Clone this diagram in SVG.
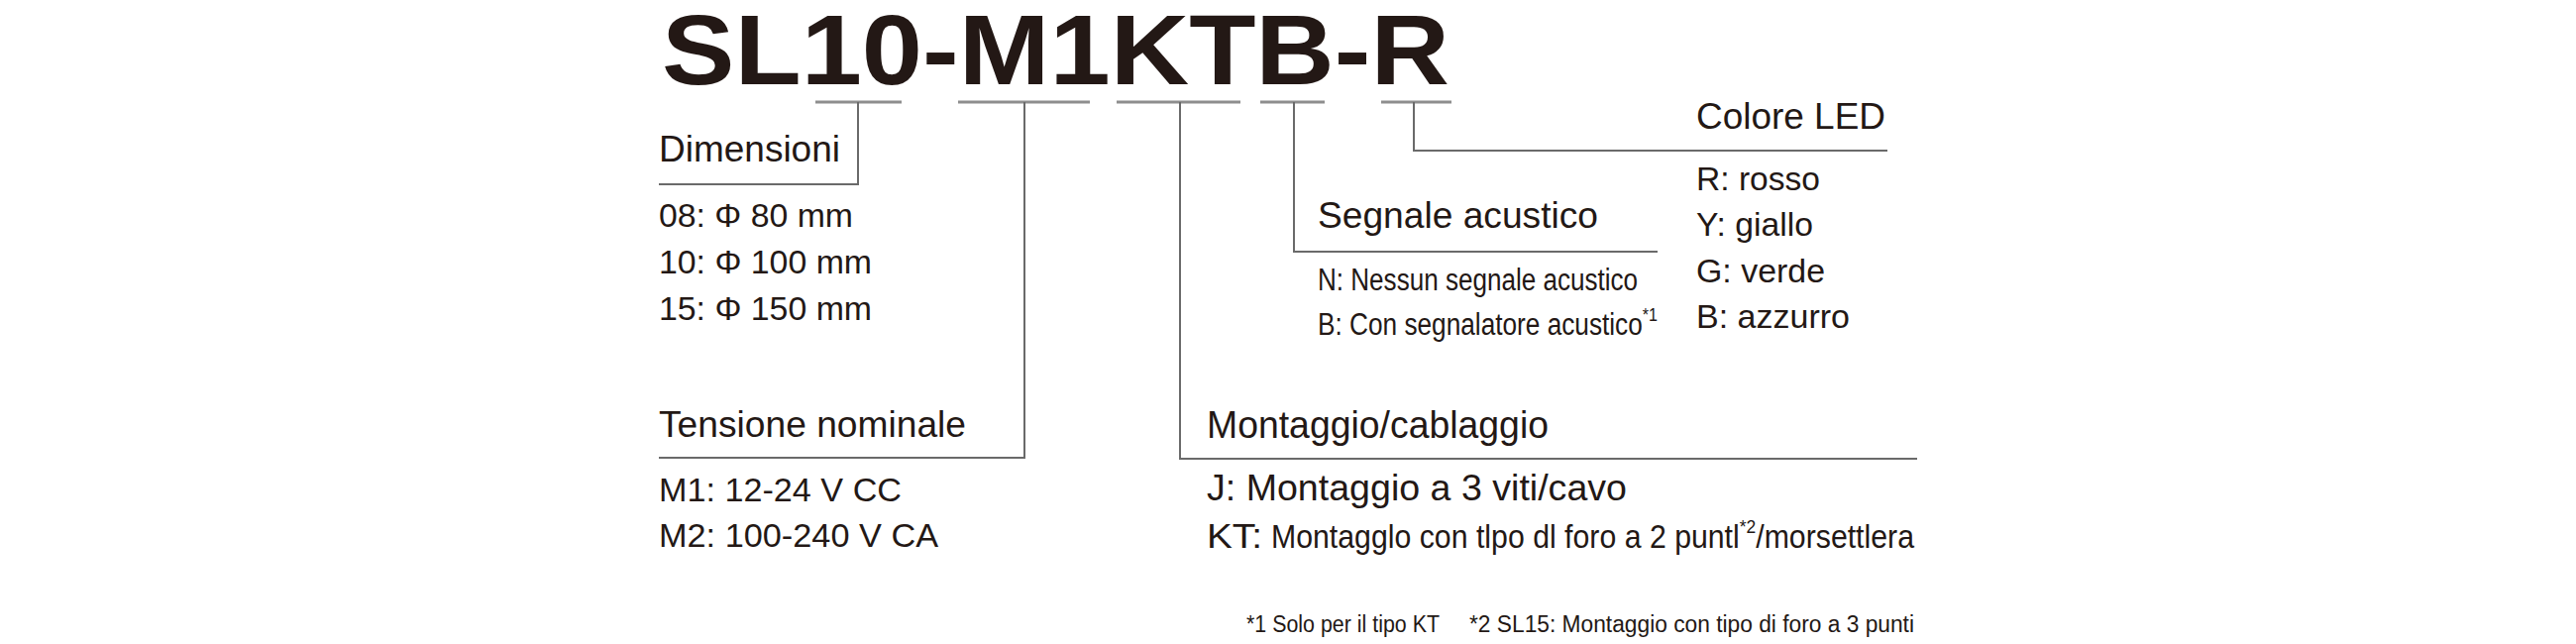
<svg xmlns="http://www.w3.org/2000/svg" width="2600" height="650" viewBox="0 0 2600 650">
<style>
text{font-family:"Liberation Sans",Arial,Helvetica,sans-serif;fill:#231815}
.title{font-size:100px;font-weight:bold}
.hd{font-size:36px}
.li{font-size:34px}
.nw{font-family:"Liberation Sans Narrow","Arial Narrow","Liberation Sans",Arial,sans-serif}
.cn{font-size:31px}
.sup{font-size:19px}
.ft{font-size:23px}
.ul{stroke:#8e8e8e;stroke-width:3;fill:none}
.cx{stroke:#6a6a6a;stroke-width:2;fill:none}
</style>
<rect width="2600" height="650" fill="#fff"/>
<g id="title">
<text class="title" x="668" y="85" textLength="795" lengthAdjust="spacingAndGlyphs">SL10-M1KTB-R</text>
</g>
<g id="connectors">
<line class="ul" x1="823" y1="103" x2="910" y2="103"/>
<line class="ul" x1="967" y1="103" x2="1100" y2="103"/>
<line class="ul" x1="1127" y1="103" x2="1252" y2="103"/>
<line class="ul" x1="1272" y1="103" x2="1337" y2="103"/>
<line class="ul" x1="1394" y1="103" x2="1465" y2="103"/>
<polyline class="cx" points="866,103 866,186 665,186"/>
<polyline class="cx" points="1034,103 1034,462 665,462"/>
<polyline class="cx" points="1191,103 1191,463 1935,463"/>
<polyline class="cx" points="1306,103 1306,254 1673,254"/>
<polyline class="cx" points="1427,103 1427,152 1905,152"/>
</g>
<g id="dimensioni">
<text class="hd" x="665" y="163" textLength="183" lengthAdjust="spacingAndGlyphs">Dimensioni</text>
<text class="li" x="665" y="229" textLength="196" lengthAdjust="spacingAndGlyphs">08: Φ 80 mm</text>
<text class="li" x="665" y="276" textLength="215" lengthAdjust="spacingAndGlyphs">10: Φ 100 mm</text>
<text class="li" x="665" y="323" textLength="215" lengthAdjust="spacingAndGlyphs">15: Φ 150 mm</text>
</g>
<g id="tensione">
<text class="hd" x="665" y="441" textLength="310" lengthAdjust="spacingAndGlyphs">Tensione nominale</text>
<text class="li" x="665" y="506" textLength="245" lengthAdjust="spacingAndGlyphs">M1: 12-24 V CC</text>
<text class="li" x="665" y="552" textLength="282" lengthAdjust="spacingAndGlyphs">M2: 100-240 V CA</text>
</g>
<g id="montaggio">
<text class="hd" x="1218" y="442" textLength="345" lengthAdjust="spacingAndGlyphs" style="font-size:38px">Montaggio/cablaggio</text>
<text class="li" x="1218" y="505" textLength="424" lengthAdjust="spacingAndGlyphs" style="font-size:36px">J: Montaggio a 3 viti/cavo</text>
<text class="li" x="1218" y="553" textLength="56" lengthAdjust="spacingAndGlyphs" style="font-size:35px">KT:</text>
<text class="li nw" x="1283" y="553" textLength="649" lengthAdjust="spacingAndGlyphs" style="font-size:33px">Montagglo con tlpo dl foro a 2 puntl<tspan class="sup" dy="-15">*2</tspan><tspan dy="15">/morsettlera</tspan></text>
</g>
<g id="segnale">
<text class="hd" x="1330" y="230" textLength="283" lengthAdjust="spacingAndGlyphs">Segnale acustico</text>
<text class="cn nw" x="1330" y="293" textLength="323" lengthAdjust="spacingAndGlyphs">N: Nessun segnale acustico</text>
<text class="cn nw" x="1330" y="338" textLength="343" lengthAdjust="spacingAndGlyphs">B: Con segnalatore acustico<tspan class="sup" dy="-14">*1</tspan></text>
</g>
<g id="colore">
<text class="hd" x="1712" y="130" textLength="191" lengthAdjust="spacingAndGlyphs">Colore LED</text>
<text class="li" x="1712" y="192" textLength="125" lengthAdjust="spacingAndGlyphs">R: rosso</text>
<text class="li" x="1712" y="238" textLength="118" lengthAdjust="spacingAndGlyphs">Y: giallo</text>
<text class="li" x="1712" y="285" textLength="130" lengthAdjust="spacingAndGlyphs">G: verde</text>
<text class="li" x="1712" y="331" textLength="155" lengthAdjust="spacingAndGlyphs">B: azzurro</text>
</g>
<g id="note">
<text class="ft nw" x="1258" y="638" textLength="195" lengthAdjust="spacingAndGlyphs">*1 Solo per il tipo KT</text>
<text class="ft nw" x="1483" y="638" textLength="449" lengthAdjust="spacingAndGlyphs">*2 SL15: Montaggio con tipo di foro a 3 punti</text>
</g>
</svg>
